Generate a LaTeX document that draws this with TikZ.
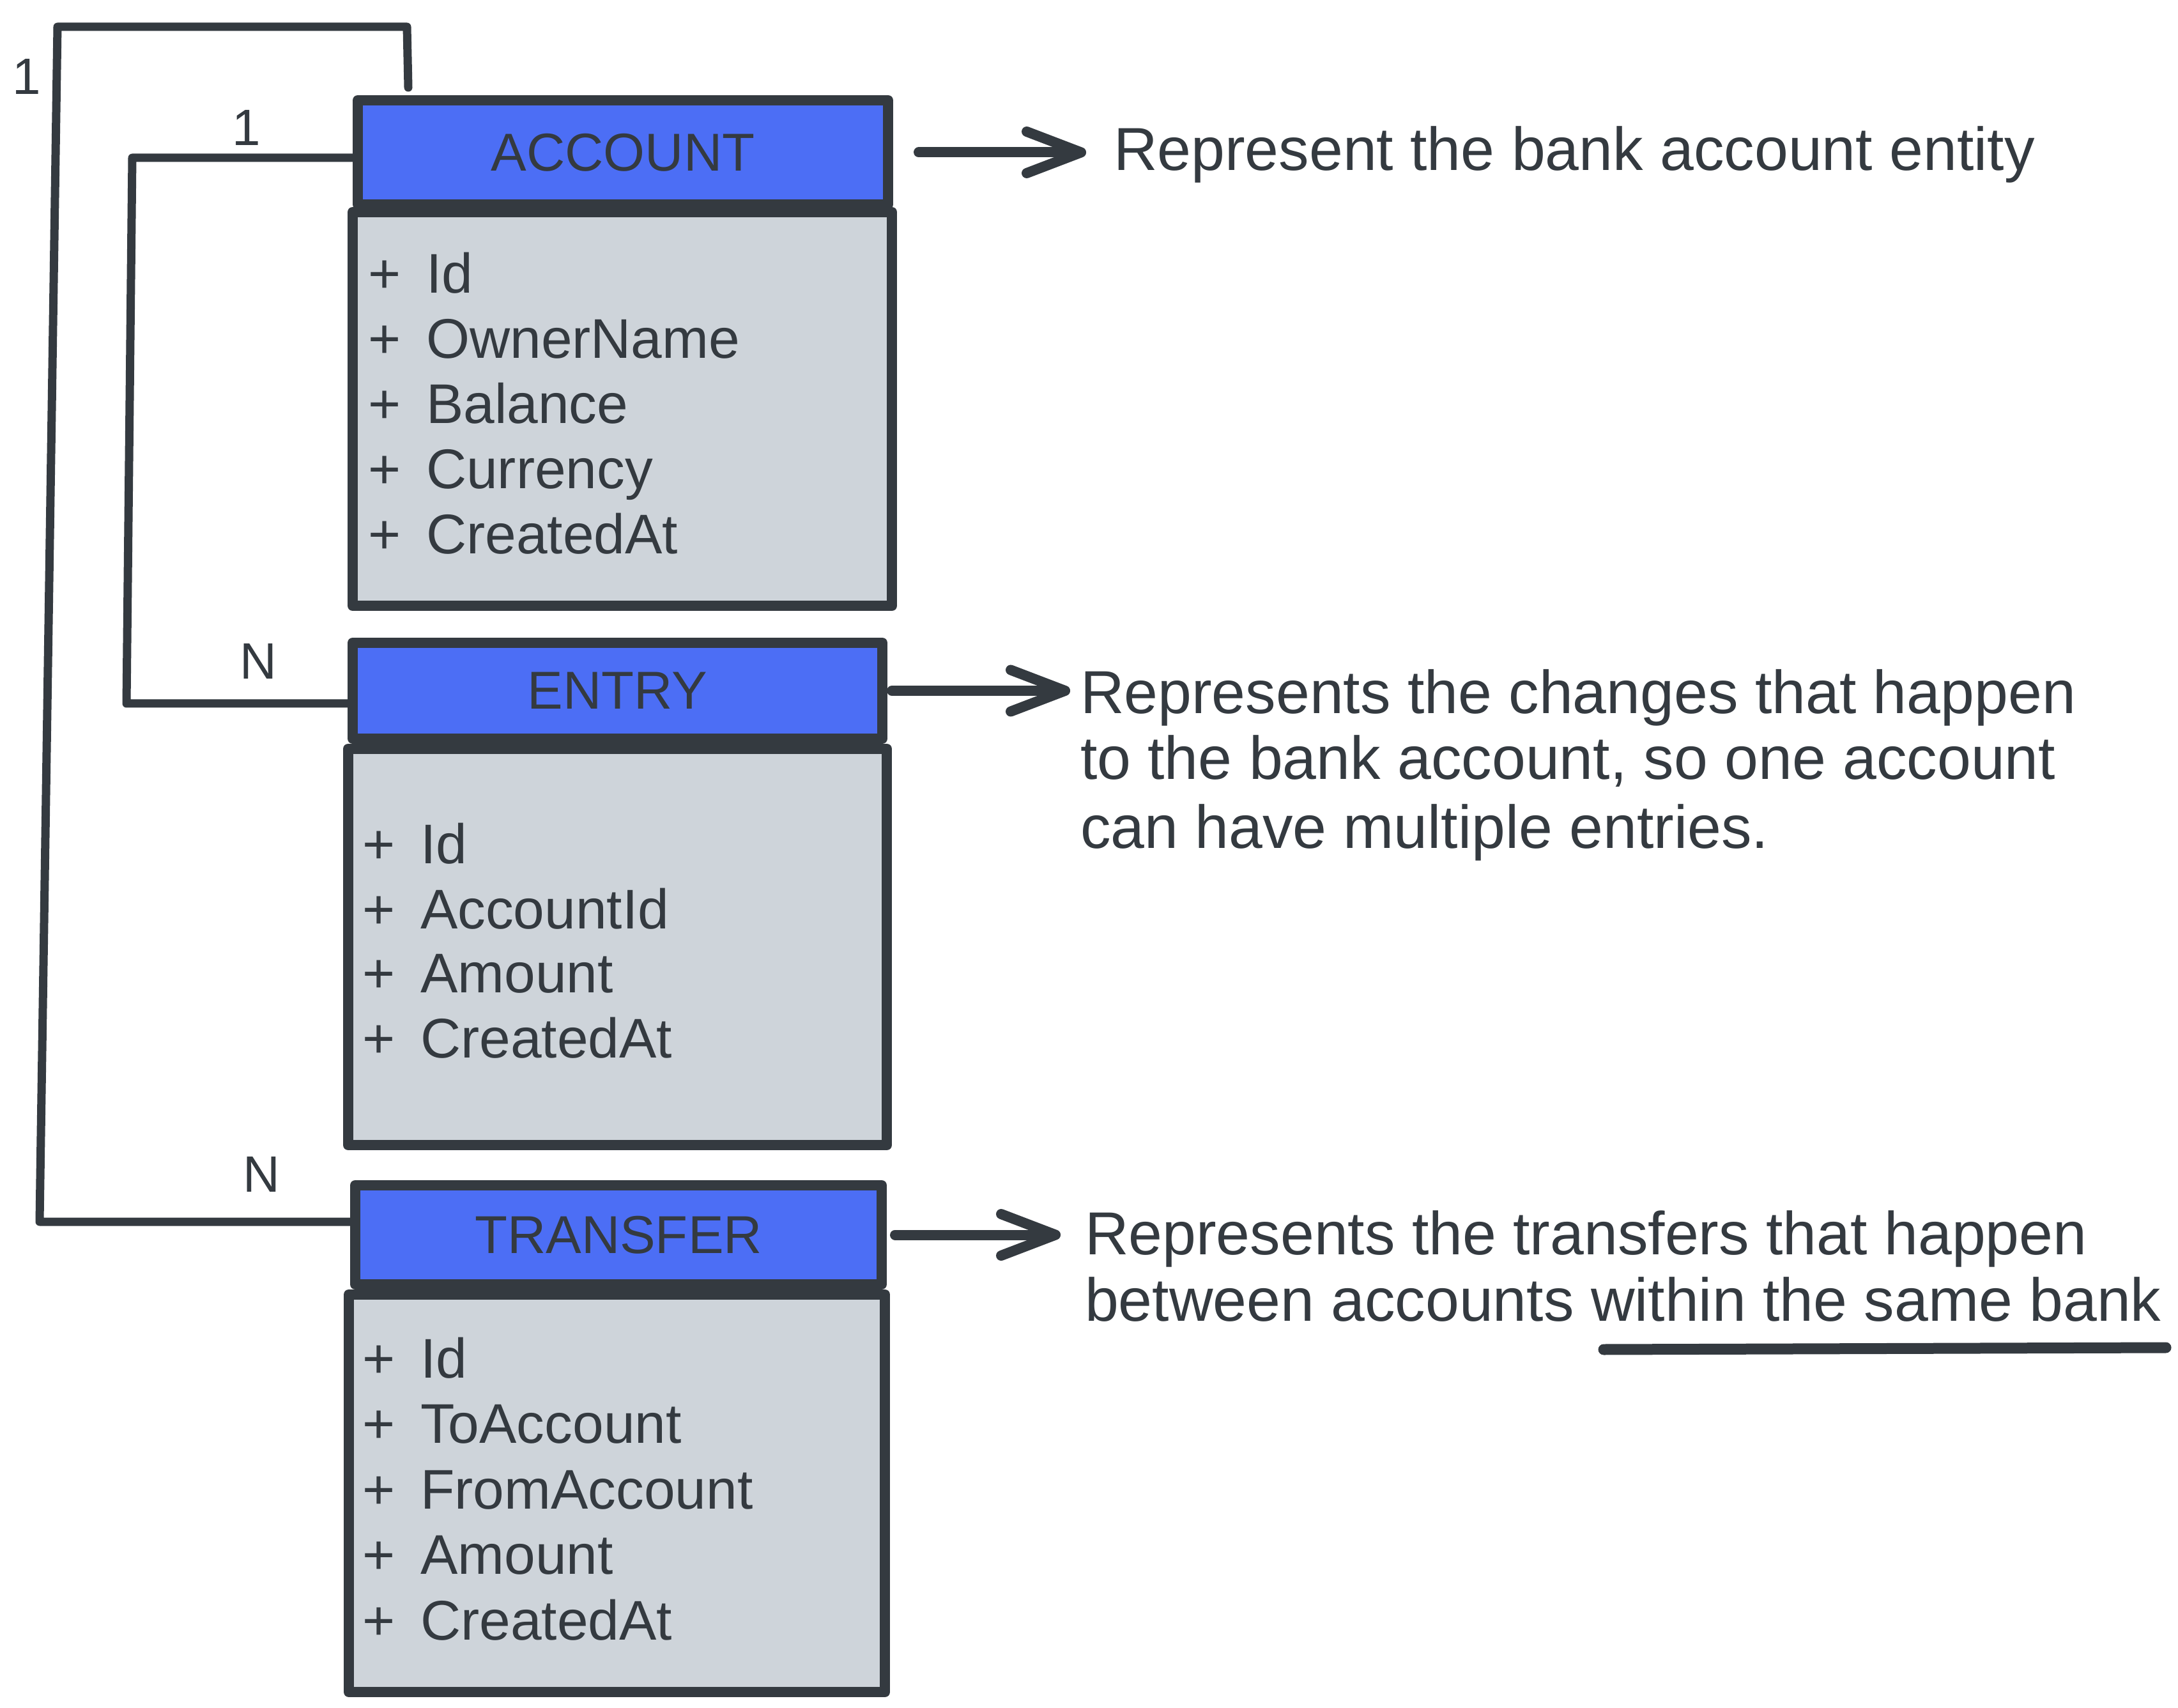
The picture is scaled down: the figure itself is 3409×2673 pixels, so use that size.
\documentclass[tikz,border=0pt]{standalone}
\usepackage{fontspec}
\setmainfont{Liberation Sans}
\usetikzlibrary{arrows.meta,calc}
\definecolor{ink}{HTML}{343A40}
\definecolor{hblue}{HTML}{4C6EF5}
\definecolor{bgray}{HTML}{CED4DA}
\tikzset{
 hdrbox/.style={draw=ink, fill=hblue, line width=3.2pt, line join=round, inner sep=0pt, text=ink, font=\fontsize{16.7}{20}\selectfont},
 bodybox/.style={draw=ink, fill=bgray, line width=3.2pt, line join=round, inner sep=0pt},
 rowtxt/.style={anchor=base west, inner sep=0pt, text=ink, font=\fontsize{17.5}{21}\selectfont},
 desctxt/.style={anchor=base west, inner sep=0pt, text=ink, font=\fontsize{19}{21}\selectfont},
 cardtxt/.style={inner sep=0pt, text=ink, font=\fontsize{16}{19}\selectfont},
 conn/.style={draw=ink, line width=2.6pt, line cap=round, line join=round},
 arr/.style={draw=ink, line width=3.2pt, line cap=round, -{Straight Barb[length=17pt,width=13pt,line cap=round,line join=round]}},
 ul/.style={draw=ink, line width=3.4pt, line cap=round},
}
\begin{document}
\begin{tikzpicture}[x=0.2pt,y=-0.2pt]
\fill[white] (0,0) rectangle (3409,2673);
\useasboundingbox (0,0) rectangle (3409,2673);

% ACCOUNT
\node[bodybox, minimum width=168.8pt, minimum height=123.2pt] (accbody) at (974,640) {};
\node[hdrbox, minimum width=166pt, minimum height=32.6pt] (acchead) at (975,238.5) {ACCOUNT};
\foreach \t [count=\i] in {Id,OwnerName,Balance,Currency,CreatedAt}
  \node[rowtxt] (accr\i) at (575,{459+102*(\i-1)}) {+\hspace{8pt}\t};

% ENTRY
\node[bodybox, minimum width=168.6pt, minimum height=124pt] (entbody) at (966.5,1482) {};
\node[hdrbox, minimum width=165.8pt, minimum height=30pt] (enthead) at (966.5,1081) {ENTRY};
\foreach \t [count=\i] in {Id,AccountId,Amount,CreatedAt}
  \node[rowtxt] (entr\i) at (566,{1352+101*(\i-1)}) {+\hspace{8pt}\t};

% TRANSFER
\node[bodybox, minimum width=167.8pt, minimum height=124.4pt] (trbody) at (965.5,2337) {};
\node[hdrbox, minimum width=164.8pt, minimum height=31pt] (trhead) at (968,1932.5) {TRANSFER};
\foreach \t [count=\i] in {Id,ToAccount,FromAccount,Amount,CreatedAt}
  \node[rowtxt] (trr\i) at (566,{2156+102.5*(\i-1)}) {+\hspace{8pt}\t};

% descriptions
\node[desctxt] (d1) at (1742,267) {Represent the bank account entity};
\node[desctxt] (d2a) at (1690,1117) {Represents the changes that happen};
\node[desctxt] (d2b) at (1690,1220) {to the bank account, so one account};
\node[desctxt] (d2c) at (1690,1328) {can have multiple entries.};
\node[desctxt] (d3a) at (1697,1963) {Represents the transfers that happen};
\node[desctxt] (d3b) at (1697,2067) {between accounts within the same bank};
\draw[ul] (2510,2112) -- (3390,2109);

% arrows
\draw[arr] ([xshift=8pt]acchead.east) -- ($(acchead.east -| d1.west)+(-8.4pt,0)$);
\draw[arr] ([xshift=1.4pt]enthead.east) -- ($(enthead.east -| d2a.west)+(-3pt,0)$);
\draw[arr] ([xshift=2.6pt]trhead.east) -- ($(trhead.east -| d3a.west)+(-7.4pt,0)$);

% cardinality labels
\node[cardtxt] (c1) at (42,120) {1};
\node[cardtxt] (c2) at (386,200) {1};
\node[cardtxt] (c3) at (404,1035) {N};
\node[cardtxt] (c4) at (409,1838) {N};

% relationship connectors
\coordinate (ob1) at (62,1912);
\coordinate (ob2) at (90,42);
\coordinate (ob3) at (637,42);
\coordinate (oend) at (639,137);
\draw[conn] ([yshift=4.1pt]trhead.west) -- (ob1) -- (ob2) -- (ob3) -- (oend);
\coordinate (ib1) at (198,1101);
\coordinate (ib2) at (207,247);
\draw[conn] ([yshift=-4pt]enthead.west) -- (ib1) -- (ib2) -- ([yshift=-1.7pt]acchead.west);
\end{tikzpicture}
\end{document}
